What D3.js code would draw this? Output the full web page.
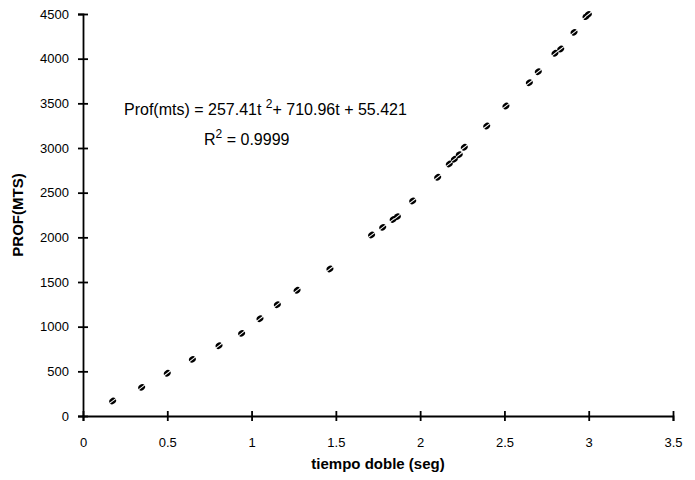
<!DOCTYPE html>
<html>
<head>
<meta charset="utf-8">
<script src="https://cdn.jsdelivr.net/npm/d3@7"></script>
<style>
  body { margin: 0; background: #fff; }
  svg { display: block; font-family: "Liberation Sans", Arial, sans-serif; }
  .axis path, .axis line { stroke: #000; stroke-width: 1.8; }
  .axis text { font-size: 13px; fill: #000; }
</style>
</head>
<body>
<div id="chart"></div>
<script>
// values
const tiempo = [0.176, 0.348, 0.500, 0.649, 0.807, 0.941, 1.050, 1.153, 1.270,
  1.465, 1.712, 1.778, 1.840, 1.865, 1.956, 2.104, 2.173, 2.203, 2.232, 2.262,
  2.395, 2.509, 2.648, 2.701, 2.800, 2.834, 2.913, 2.984, 2.998];
const prof = [168, 321, 478, 634, 787, 925, 1089, 1246, 1407,
  1646, 2026, 2112, 2200, 2232, 2407, 2672, 2821, 2874, 2925, 3008,
  3246, 3470, 3731, 3854, 4060, 4108, 4295, 4470, 4495];
const xTicks = [0, 0.5, 1, 1.5, 2, 2.5, 3, 3.5];
const yTicks = [0, 500, 1000, 1500, 2000, 2500, 3000, 3500, 4000, 4500];

let width = 695,
    height = 480,
    margin = ({ top: 14, right: 22, bottom: 64, left: 83 });

const svg = d3.select("#chart")
  .append("svg")
  .attr("width", width)
  .attr("height", height);

const data = tiempo.map((t, i) => ({ t: t, p: prof[i] }));

let x = d3.scaleLinear()
  .domain([0, 3.5])
  .range([margin.left, width - margin.right]);

let y = d3.scaleLinear()
  .domain([0, 4500])
  .range([height - margin.bottom, margin.top]);

// ticks cross the axis line on both sides
const gx = svg.append("g")
  .attr("class", "axis")
  .attr("transform", `translate(0,${height - margin.bottom})`)
  .call(d3.axisBottom(x).tickValues(xTicks).tickSize(5).tickPadding(17).tickFormat(d3.format("")));
gx.selectAll(".tick line").attr("y1", -5);

const gy = svg.append("g")
  .attr("class", "axis")
  .attr("transform", `translate(${margin.left},0)`)
  .call(d3.axisLeft(y).tickValues(yTicks).tickSize(5).tickPadding(9).tickFormat(d3.format("d")));
gy.selectAll(".tick line").attr("x1", 5);

// markers
const pts = svg.append("g")
  .selectAll("g")
  .data(data)
  .join("g")
  .attr("transform", d => `translate(${x(d.t)},${y(d.p)}) rotate(-38)`);

pts.append("ellipse")
  .attr("rx", 3.6)
  .attr("ry", 3)
  .attr("fill", "#000");

pts.append("line")
  .attr("x1", -4).attr("x2", 4)
  .attr("stroke", "#fff")
  .attr("stroke-width", 1);

// axis titles
svg.append("text")
  .attr("x", (margin.left + width - margin.right) / 2)
  .attr("y", 469)
  .attr("text-anchor", "middle")
  .attr("font-weight", "bold")
  .attr("font-size", 15)
  .text("tiempo doble (seg)");

svg.append("text")
  .attr("transform", `translate(23,${(margin.top + height - margin.bottom) / 2}) rotate(-90)`)
  .attr("text-anchor", "middle")
  .attr("font-weight", "bold")
  .attr("font-size", 15)
  .text("PROF(MTS)");

// trendline equation
const eq = svg.append("text")
  .attr("x", 124)
  .attr("y", 115)
  .attr("font-size", 16);
eq.append("tspan").text("Prof(mts) = 257.41t ");
eq.append("tspan").attr("dy", -7).attr("font-size", 12).text("2");
eq.append("tspan").attr("dy", 7).text("+ 710.96t + 55.421");

const r2 = svg.append("text")
  .attr("x", 204)
  .attr("y", 145)
  .attr("font-size", 16);
r2.append("tspan").text("R");
r2.append("tspan").attr("dy", -7).attr("font-size", 12).text("2");
r2.append("tspan").attr("dy", 7).text(" = 0.9999");
</script>
</body>
</html>
